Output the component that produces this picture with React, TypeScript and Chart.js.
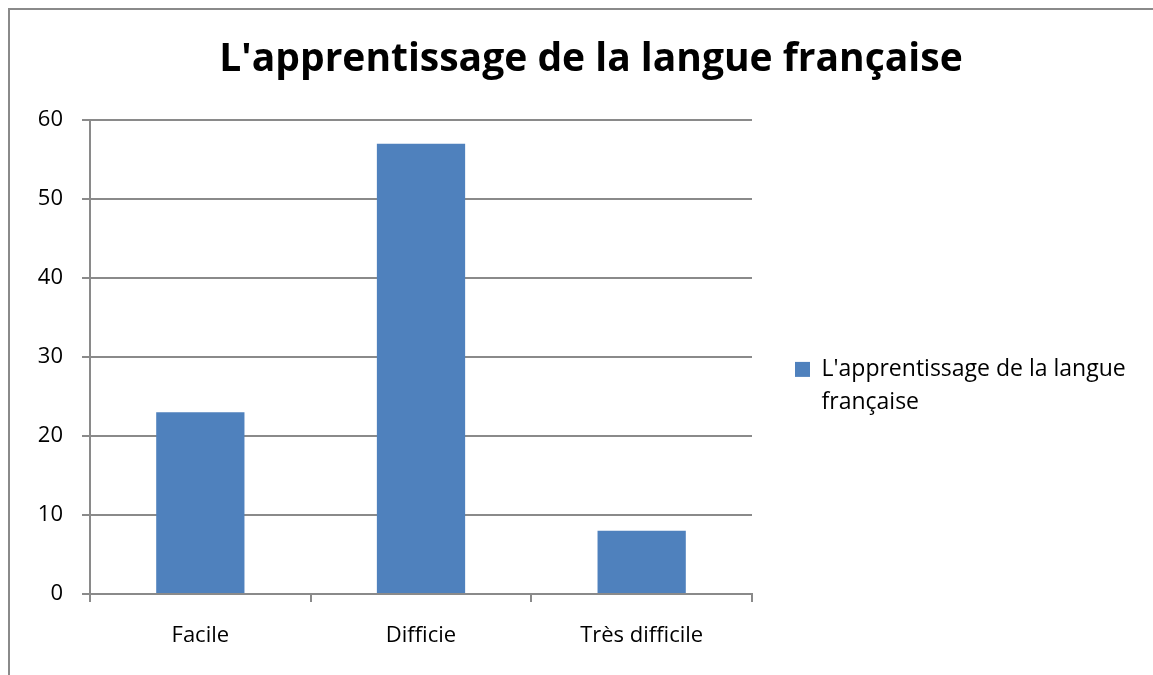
import React, { useEffect, useRef } from 'react';
import { Chart, registerables } from 'chart.js';

Chart.register(...registerables);

// ---- data ----
const categories: string[] = ['Facile', 'Difficie', 'Très difficile'];
const values: number[] = [23, 57, 8];
const seriesName = "L'apprentissage de la langue française";
const legendLines: string[] = ["L'apprentissage de la langue", 'française'];
const yMin = 0;
const yMax = 60;
const yStep = 10;

// ---- style ----
const FONT = '"Open Sans", sans-serif';
const GRAY = '#8a8a8a';
const BAR = '#4F81BD';
const TEXT = '#000000';

export default function App() {
  const ref = useRef<HTMLCanvasElement>(null);

  useEffect(() => {
    const canvas = ref.current!;
    const W = 1143;
    const fontSize = 22;
    const legendFontSize = 23;

    const plotLeft = 80;
    const plotRight = 742;
    const legendPad = 43;
    const boxW = 15;
    const titleCenter = 581;
    const padR = 0;
    const padL = 2 * titleCenter - W + padR; // 19
    const legendWidth = W - padR - plotRight; // 401

    const chart = new Chart(canvas, {
      type: 'bar',
      data: {
        labels: categories,
        datasets: [
          {
            label: seriesName,
            data: values,
            backgroundColor: BAR,
            borderWidth: 0,
            barPercentage: 0.4,
            categoryPercentage: 1,
          },
        ],
      },
      options: {
        responsive: false,
        animation: false,
        devicePixelRatio: 1,
        layout: { padding: { left: padL, right: padR, top: 0, bottom: 0 } },
        plugins: {
          tooltip: { enabled: false },
          title: {
            display: true,
            text: seriesName,
            color: TEXT,
            font: { family: FONT, size: 39, weight: 'bold', lineHeight: 1.2 },
            padding: { top: 26.6, bottom: 36.6 },
          },
          legend: {
            display: true,
            position: 'right',
            align: 'start',
            maxWidth: legendWidth,
            title: {
              display: true,
              text: ' ',
              font: { family: FONT, size: 1, lineHeight: 1 },
              padding: { top: 303.9, bottom: 0 },
            },
            labels: {
              color: TEXT,
              font: { family: FONT, size: legendFontSize, lineHeight: 1.43 },
              boxWidth: boxW,
              boxHeight: boxW,
              padding: legendPad,
              generateLabels: (c: any) => {
                const items = Chart.defaults.plugins.legend.labels.generateLabels(c);
                items.forEach((it: any) => {
                  // trailing spaces only widen the measured box so maxWidth pins it
                  it.text = [legendLines[0] + ' '.repeat(16), legendLines[1]];
                  it.lineWidth = 0;
                });
                return items;
              },
            },
          },
        },
        scales: {
          x: {
            type: 'category',
            offset: true,
            grid: {
              offset: true,
              drawOnChartArea: false,
              drawTicks: true,
              tickLength: 8,
              color: GRAY,
              lineWidth: 2,
            },
            border: { display: true, color: GRAY, width: 2 },
            ticks: {
              color: TEXT,
              font: { family: FONT, size: fontSize, lineHeight: 1.2 },
              padding: 21,
              maxRotation: 0,
              autoSkip: false,
            },
            afterFit: (s: any) => {
              s.height = 81;
            },
          },
          y: {
            min: yMin,
            max: yMax,
            ticks: {
              stepSize: yStep,
              color: TEXT,
              font: { family: FONT, size: fontSize },
              padding: 19,
            },
            grid: {
              color: GRAY,
              lineWidth: 2,
              drawTicks: true,
              tickLength: 8,
            },
            border: { display: true, color: GRAY, width: 2 },
            afterFit: (s: any) => {
              s.width = plotLeft - padL;
            },
          },
        },
      },
    });
    return () => chart.destroy();
  }, []);

  return (
    <div
      style={{
        position: 'fixed',
        left: 8,
        top: 8,
        width: 1145,
        height: 667,
        boxSizing: 'border-box',
        borderTop: `2px solid ${GRAY}`,
        borderLeft: `2px solid ${GRAY}`,
        background: '#fff',
      }}
    >
      <canvas ref={ref} width={1143} height={665} style={{ display: 'block', width: 1143, height: 665 }} />
    </div>
  );
}
